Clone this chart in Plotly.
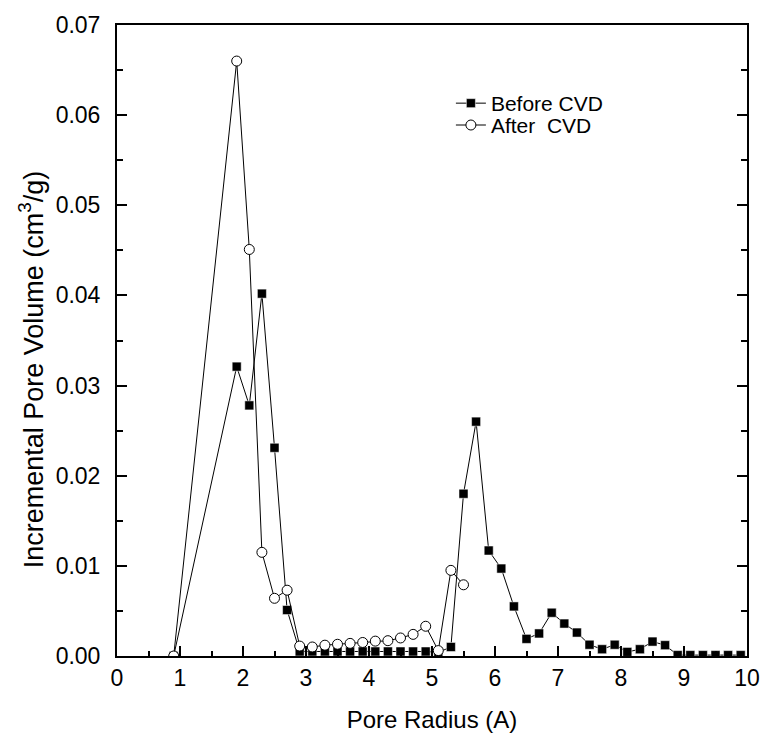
import plotly.graph_objects as go

x_before = [0.9, 1.9, 2.1, 2.3, 2.5, 2.7, 2.9, 3.1, 3.3, 3.5, 3.7, 3.9, 4.1, 4.3, 4.5,
            4.7, 4.9, 5.1, 5.3, 5.5, 5.7, 5.9, 6.1, 6.3, 6.5, 6.7, 6.9, 7.1, 7.3, 7.5,
            7.7, 7.9, 8.1, 8.3, 8.5, 8.7, 8.9, 9.1, 9.3, 9.5, 9.7, 9.9]
y_before = [0.0, 0.0321, 0.0278, 0.0402, 0.0231, 0.0051,
            0.0005, 0.0005, 0.0005, 0.0005, 0.0005, 0.0005, 0.0005, 0.0005, 0.0005,
            0.0005, 0.0005, 0.0004,
            0.001, 0.018, 0.026, 0.0117, 0.0097, 0.0055, 0.0019, 0.0025, 0.0048,
            0.0036, 0.0026, 0.00125, 0.00075, 0.00125, 0.00045, 0.00075, 0.0016, 0.0012,
            0.0001, 0.0001, 0.0001, 0.0001, 0.0001, 0.0001]

x_after = [0.9, 1.9, 2.1, 2.3, 2.5, 2.7, 2.9, 3.1, 3.3, 3.5, 3.7, 3.9, 4.1, 4.3, 4.5,
           4.7, 4.9, 5.1, 5.3, 5.5]
y_after = [0.0, 0.066, 0.0451, 0.0115, 0.0064, 0.0073, 0.0011, 0.0010, 0.0012, 0.0013,
           0.0014, 0.0015, 0.00165, 0.0017, 0.0020, 0.0024, 0.0033, 0.0006, 0.0095, 0.0079]

font = "Liberation Sans, Arial, sans-serif"

fig = go.Figure()
fig.add_trace(go.Scatter(
    x=x_before, y=y_before, mode="lines+markers", name="Before CVD",
    line=dict(color="black", width=1),
    marker=dict(symbol="square", size=9, color="black", line=dict(color="white", width=0.5)),
    legend="legend",
))
fig.add_trace(go.Scatter(
    x=x_after, y=y_after, mode="lines+markers", name="After  CVD",
    line=dict(color="black", width=1),
    marker=dict(symbol="circle", size=10, color="white", line=dict(color="black", width=1)),
    legend="legend2",
))

legend_common = dict(xanchor="left", yanchor="middle", bgcolor="rgba(0,0,0,0)",
                     font=dict(size=21), itemwidth=30, borderwidth=0)

fig.update_layout(
    width=772, height=744,
    margin=dict(l=117, r=19, t=21, b=88),
    paper_bgcolor="white", plot_bgcolor="white",
    font=dict(family=font, size=24, color="black"),
    showlegend=True,
    legend=dict(x=0.53, y=(744 - 100 - 88) / 635, **legend_common),
    legend2=dict(x=0.53, y=(744 - 122 - 88) / 635, **legend_common),
    annotations=[dict(
        text="Incremental Pore Volume (cm<sup>3</sup>/g)",
        xref="paper", yref="paper", x=(30 - 117) / 636, y=0.454,
        xanchor="center", yanchor="middle", textangle=-90, showarrow=False,
        font=dict(size=27, family=font, color="black"),
    )],
)
fig.update_xaxes(
    range=[0, 10], dtick=1, tick0=0,
    showline=True, linecolor="black", linewidth=2, mirror=True,
    ticks="inside", ticklen=10, tickwidth=1.5, tickcolor="black",
    minor=dict(ticks="inside", ticklen=5, dtick=0.5, tickwidth=1.5, tickcolor="black"),
    showgrid=False, zeroline=False,
    tickfont=dict(size=23), ticklabelstandoff=0,
    title=dict(text="Pore Radius (A)", font=dict(size=24), standoff=22),
)
fig.update_yaxes(
    range=[0, 0.07], dtick=0.01, tick0=0, tickformat=".2f",
    showline=True, linecolor="black", linewidth=2, mirror="ticks",
    ticks="inside", ticklen=10, tickwidth=1.5, tickcolor="black",
    minor=dict(ticks="inside", ticklen=6, dtick=0.005, tickwidth=1.5, tickcolor="black"),
    showgrid=False, zeroline=False,
    tickfont=dict(size=23), ticklabelstandoff=10,
)

fig.write_html("out.html", config={"displayModeBar": False},
               post_script="document.body.style.margin='0';")
